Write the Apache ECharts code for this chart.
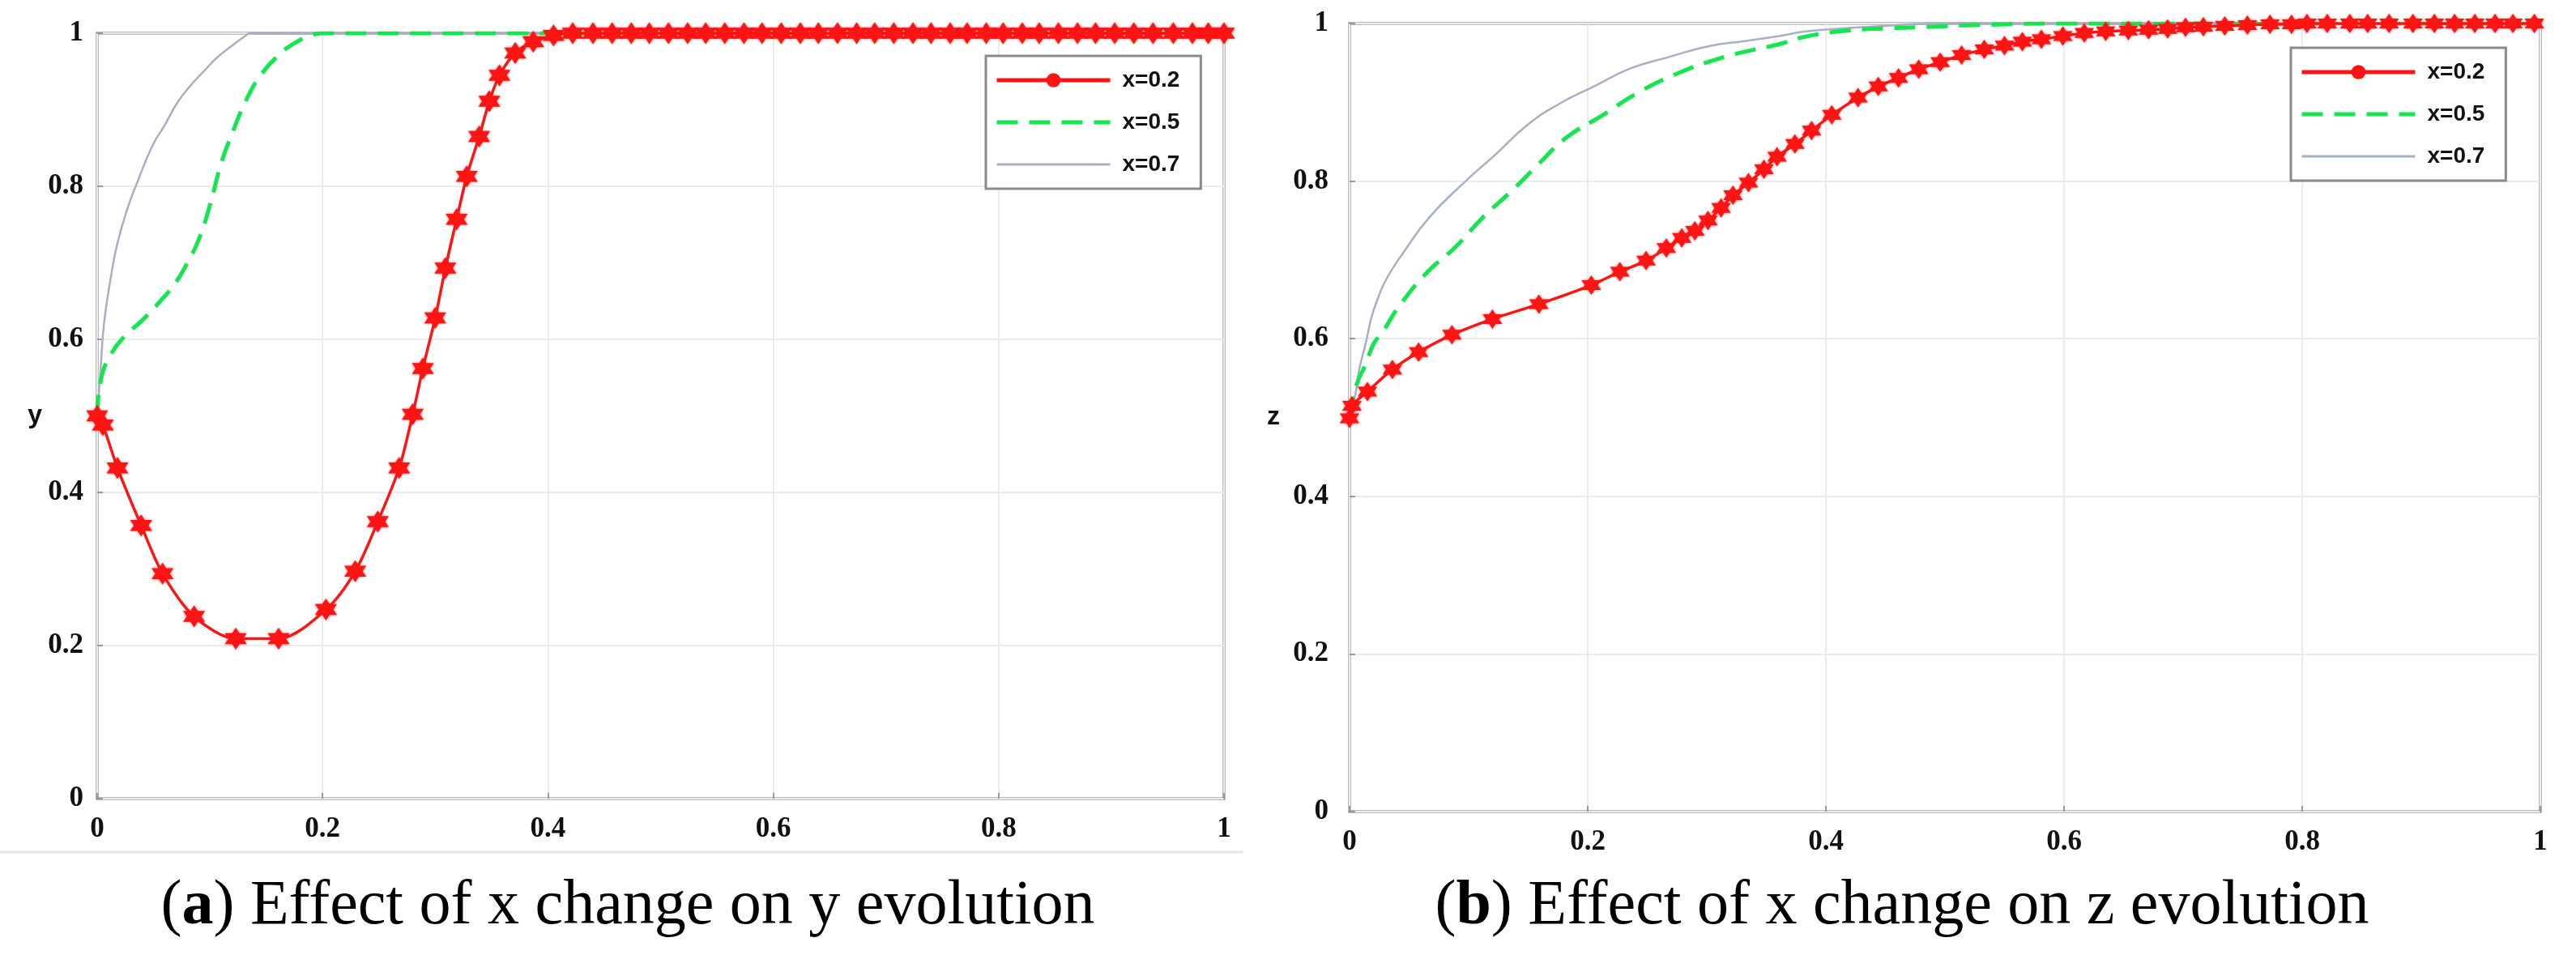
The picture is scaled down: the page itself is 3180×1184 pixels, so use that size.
<!DOCTYPE html>
<html>
<head>
<meta charset="utf-8">
<script src="https://cdn.jsdelivr.net/npm/echarts@6/dist/echarts.min.js"></script>
<style>
  html, body { margin: 0; padding: 0; background: #fff; }
  #chart { width: 3180px; height: 1184px; }
</style>
</head>
<body>
<div id="chart"></div>
<script>
// ticks shared by both panels
const tickValues = [0, 0.2, 0.4, 0.6, 0.8, 1]
const seriesNames = ['x=0.2', 'x=0.5', 'x=0.7']
const captions = ['Effect of x change on y evolution', 'Effect of x change on z evolution']

// panel (a): y evolution
const yRed = [
  [0, 0.5], [0.005, 0.488], [0.018, 0.432], [0.039, 0.357], [0.058, 0.294], [0.086, 0.238],
  [0.123, 0.209], [0.161, 0.209], [0.203, 0.247], [0.229, 0.297], [0.249, 0.362], [0.268, 0.432],
  [0.28, 0.502], [0.289, 0.562], [0.3, 0.628], [0.309, 0.693], [0.319, 0.757], [0.328, 0.813],
  [0.339, 0.865], [0.348, 0.911], [0.357, 0.945], [0.371, 0.974], [0.387, 0.989], [0.405, 0.997],
  [0.422, 1], [0.44, 1], [0.457, 1], [0.474, 1], [0.49, 1], [0.507, 1], [0.524, 1], [0.54, 1],
  [0.557, 1], [0.574, 1], [0.59, 1], [0.607, 1], [0.624, 1], [0.64, 1], [0.657, 1], [0.674, 1],
  [0.69, 1], [0.707, 1], [0.724, 1], [0.74, 1], [0.757, 1], [0.772, 1], [0.789, 1], [0.804, 1],
  [0.821, 1], [0.836, 1], [0.853, 1], [0.87, 1], [0.886, 1], [0.903, 1], [0.92, 1], [0.937, 1],
  [0.955, 1], [0.972, 1], [0.986, 1], [1, 1]
]
const yGreen = [
  [0, 0.5], [0.003, 0.545], [0.012, 0.58], [0.025, 0.605], [0.04, 0.625], [0.056, 0.65],
  [0.07, 0.675], [0.08, 0.7], [0.09, 0.73], [0.1, 0.775], [0.11, 0.83], [0.12, 0.87],
  [0.133, 0.915], [0.145, 0.945], [0.16, 0.97], [0.175, 0.987], [0.19, 0.997], [0.2, 1], [1, 1]
]
const yGray = [
  [0, 0.5], [0.003, 0.56], [0.006, 0.62], [0.012, 0.68], [0.018, 0.726], [0.028, 0.776],
  [0.035, 0.803], [0.049, 0.853], [0.06, 0.88], [0.071, 0.909], [0.083, 0.932], [0.095, 0.951],
  [0.107, 0.969], [0.119, 0.983], [0.13, 0.995], [0.136, 1], [1, 1]
]

// panel (b): z evolution
const zRed = [
  [0, 0.499], [0.002, 0.515], [0.015, 0.533], [0.036, 0.561], [0.058, 0.583], [0.086, 0.605],
  [0.12, 0.625], [0.159, 0.644], [0.203, 0.668], [0.227, 0.685], [0.249, 0.699], [0.266, 0.715],
  [0.279, 0.728], [0.29, 0.737], [0.301, 0.75], [0.312, 0.766], [0.322, 0.782], [0.335, 0.798],
  [0.348, 0.815], [0.359, 0.831], [0.374, 0.847], [0.388, 0.864], [0.405, 0.884], [0.427, 0.906],
  [0.444, 0.92], [0.461, 0.931], [0.478, 0.942], [0.496, 0.951], [0.514, 0.96], [0.533, 0.967],
  [0.55, 0.972], [0.565, 0.977], [0.581, 0.98], [0.599, 0.984], [0.617, 0.988], [0.635, 0.99],
  [0.654, 0.991], [0.671, 0.992], [0.687, 0.993], [0.702, 0.995], [0.717, 0.996], [0.735, 0.997],
  [0.754, 0.998], [0.773, 0.999], [0.791, 0.999], [0.804, 1], [0.821, 1], [0.84, 1], [0.855, 1],
  [0.873, 1], [0.893, 1], [0.911, 1], [0.928, 1], [0.945, 1], [0.962, 1], [0.977, 1], [0.995, 1]
]
const zGreen = [
  [0, 0.5], [0.006, 0.542], [0.014, 0.569], [0.02, 0.593], [0.028, 0.609], [0.041, 0.64],
  [0.065, 0.684], [0.088, 0.715], [0.112, 0.754], [0.135, 0.786], [0.157, 0.819], [0.182, 0.855],
  [0.213, 0.884], [0.242, 0.912], [0.276, 0.937], [0.309, 0.955], [0.34, 0.967], [0.359, 0.973],
  [0.382, 0.983], [0.418, 0.991], [0.454, 0.994], [0.49, 0.996], [0.525, 0.998], [0.6, 1], [1, 1]
]
const zGray = [
  [0, 0.5], [0.005, 0.53], [0.008, 0.56], [0.014, 0.597], [0.018, 0.625], [0.023, 0.648],
  [0.031, 0.676], [0.046, 0.711], [0.067, 0.754], [0.096, 0.798], [0.122, 0.833], [0.15, 0.872],
  [0.176, 0.898], [0.205, 0.92], [0.236, 0.943], [0.267, 0.957], [0.301, 0.971], [0.333, 0.978],
  [0.361, 0.984], [0.383, 0.99], [0.45, 0.997], [0.5, 1], [1, 1]
]

const RED = '#ff1414'
const GREEN = '#14e650'
const GRAY = '#a7afc4'
// six pointed star, like the matlab 'hexagram' marker
const STAR = 'path://M0,-10L2.9,-5L8.66,-5L5.8,0L8.66,5L2.9,5L0,10L-2.9,5L-8.66,5L-5.8,0L-8.66,-5L-2.9,-5Z'

const chart = echarts.init(document.getElementById('chart'))

const tickFont = {
  fontFamily: 'Liberation Serif',
  fontWeight: 'bold',
  fontSize: 35,
  color: '#111'
}

function xAxisFor(gridIndex) {
  return {
    type: 'value', gridIndex, min: 0, max: 1, interval: 0.2,
    axisLine: { show: false },
    axisTick: { show: true, inside: true, length: 7, lineStyle: { color: '#999', width: 2 } },
    axisLabel: { ...tickFont, margin: 20 },
    splitLine: { show: true, lineStyle: { color: '#ebebeb', width: 2 } }
  }
}

function yAxisFor(gridIndex, name, gap, labelMargin) {
  return {
    type: 'value', gridIndex, min: 0, max: 1, interval: 0.2,
    name, nameLocation: 'middle', nameGap: gap, nameRotate: 0,
    nameTextStyle: { fontFamily: 'Liberation Sans', fontWeight: 'bold', fontSize: 32, color: '#111', padding: [36, 0, 0, 0] },
    axisLine: { show: false },
    axisTick: { show: true, inside: true, length: 7, lineStyle: { color: '#999', width: 2 } },
    axisLabel: { ...tickFont, margin: labelMargin },
    splitLine: { show: true, lineStyle: { color: '#ebebeb', width: 2 } }
  }
}

function panelSeries(idx, red, green, gray, markSize) {
  return [
    // only used for the legend key (line with a round dot)
    {
      name: seriesNames[0], type: 'line', xAxisIndex: idx, yAxisIndex: idx, data: [],
      symbol: 'circle', itemStyle: { color: RED }, lineStyle: { color: RED, width: 5 }
    },
    {
      name: seriesNames[2], type: 'line', xAxisIndex: idx, yAxisIndex: idx, data: gray,
      symbol: 'none', smooth: 0.5,
      itemStyle: { color: GRAY }, lineStyle: { color: GRAY, width: 2.5 }
    },
    {
      name: seriesNames[1], type: 'line', xAxisIndex: idx, yAxisIndex: idx, data: green,
      symbol: 'none', smooth: 0.5,
      itemStyle: { color: GREEN }, lineStyle: { color: GREEN, width: 5, type: [26, 14] }
    },
    {
      name: seriesNames[0], type: 'line', xAxisIndex: idx, yAxisIndex: idx, data: red,
      symbol: STAR, symbolSize: markSize, showAllSymbol: true, smooth: 0.3,
      itemStyle: { color: RED, shadowBlur: 3, shadowColor: 'rgba(255,0,0,0.6)' },
      lineStyle: { color: RED, width: 3.5 }
    }
  ]
}

function legendAt(left, top) {
  return {
    orient: 'vertical', left, top,
    data: [
      { name: seriesNames[0], lineStyle: { width: 5 } },
      { name: seriesNames[1], lineStyle: { width: 5 }, itemStyle: { opacity: 0 } },
      { name: seriesNames[2], lineStyle: { width: 3 }, itemStyle: { opacity: 0 } }
    ],
    itemWidth: 140, itemHeight: 22, itemGap: 24,
    padding: [16, 26, 16, 11],
    borderColor: '#8a8a8a', borderWidth: 3, backgroundColor: '#fff',
    selectedMode: false,
    textStyle: { fontFamily: 'Liberation Sans', fontWeight: 'bold', fontSize: 28, color: '#111', padding: [0, 0, 0, 10] }
  }
}

const captionRich = { b: { fontFamily: 'Liberation Serif', fontWeight: 'bold', fontSize: 78, fill: '#000' } }

chart.setOption({
  animation: false,
  backgroundColor: '#fff',
  grid: [
    { left: 120, top: 41, width: 1391, height: 945, show: true, borderColor: '#767676', borderWidth: 3, backgroundColor: 'transparent' },
    { left: 1666, top: 29, width: 1470, height: 973, show: true, borderColor: '#767676', borderWidth: 3, backgroundColor: 'transparent' }
  ],
  xAxis: [xAxisFor(0), xAxisFor(1)],
  yAxis: [yAxisFor(0, 'y', 68, 17), yAxisFor(1, 'z', 86, 26)],
  legend: [legendAt(1217, 69), legendAt(2828, 59)],
  series: [
    ...panelSeries(0, yRed, yGreen, yGray, 27),
    ...panelSeries(1, zRed, zGreen, zGray, 24)
  ],
  graphic: [
    {
      type: 'line', shape: { x1: 0, y1: 1052, x2: 1535, y2: 1052 },
      style: { stroke: '#e6e6e6', lineWidth: 3 }
    },
    {
      type: 'text', x: 775, y: 1120,
      style: {
        text: '({b|a}) ' + captions[0], rich: captionRich,
        font: '78px "Liberation Serif"', fill: '#000', align: 'center', verticalAlign: 'middle'
      }
    },
    {
      type: 'text', x: 2348, y: 1120,
      style: {
        text: '({b|b}) ' + captions[1], rich: captionRich,
        font: '78px "Liberation Serif"', fill: '#000', align: 'center', verticalAlign: 'middle'
      }
    }
  ]
})
</script>
</body>
</html>
